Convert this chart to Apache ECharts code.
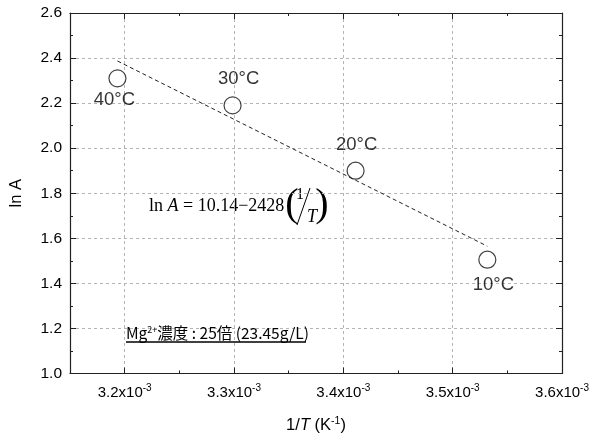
<!DOCTYPE html>
<html>
<head>
<meta charset="utf-8">
<script src="https://cdn.jsdelivr.net/npm/echarts@6/dist/echarts.min.js"></script>
<style>
  html, body { margin: 0; padding: 0; background: #fff; }
  #chart { width: 599px; height: 439px; }
</style>
</head>
<body>
<div id="chart"></div>
<script>
// Measured points: reciprocal temperature (1/K) and ln A
const tempLabels = ['40°C', '30°C', '20°C', '10°C'];
const invT = [0.0031934, 0.0032987, 0.0034112, 0.0035317];
const lnA = [2.31, 2.19, 1.90, 1.505];

// Regression line ln A = 10.14 - 2428 (1/T), drawn between its two end points
const fitX = [0.0031934, 0.0035317];
const fitY = [2.387, 1.565];

// Axis ranges
const xMin = 0.00315, xMax = 0.0036;
const yMin = 1.0, yMax = 2.6, yStep = 0.2;

const FONT = 'Liberation Sans, Arial, sans-serif';
const SERIF = 'Liberation Serif, Times New Roman, serif';
const INK = '#000';
const gridDash = { color: '#b4b4b4', type: [3, 3], width: 1 };

// Label placement for each temperature tag
const labelPlace = [
  { position: 'bottom', distance: 3, offset: [-3, 0] },
  { position: 'top', distance: 8, offset: [6, 0] },
  { position: 'top', distance: 7, offset: [1, 0] },
  { position: 'bottom', distance: 7, offset: [6, 0] }
];

const points = invT.map((x, i) => ({
  value: [x, lnA[i]],
  label: Object.assign({
    show: true,
    formatter: tempLabels[i],
    color: INK,
    fontSize: 18.5,
    fontFamily: FONT
  }, labelPlace[i])
}));

const fitLine = fitX.map((x, i) => [x, fitY[i]]);

function xTickLabel(v) {
  return '{m|' + (v * 1000).toFixed(1) + 'x10}{s|-3}';
}

const chart = echarts.init(document.getElementById('chart'));
chart.setOption({
  animation: false,
  backgroundColor: '#fff',
  grid: { left: 68, right: 37, top: 13, bottom: 64, containLabel: false },
  xAxis: [
    {
      // bottom axis: labels, major ticks, grid lines
      type: 'value', position: 'bottom', min: xMin, max: xMax,
      name: '{n|1/}{i|T}{n| (K}{s|-1}{n|)}',
      nameLocation: 'middle', nameGap: 42,
      nameTextStyle: {
        rich: {
          n: { fontSize: 16.5, fontFamily: FONT, color: INK },
          i: { fontSize: 16.5, fontFamily: FONT, fontStyle: 'italic', color: INK },
          s: { fontSize: 10.5, fontFamily: FONT, color: INK, verticalAlign: 'top', padding: [0, 0, 9, 0] }
        }
      },
      axisLine: { show: true, lineStyle: { color: '#222', width: 1.2 } },
      axisTick: { show: true, inside: true, length: 6, lineStyle: { color: '#222' } },
      axisLabel: {
        show: true, margin: 10, showMinLabel: false,
        formatter: xTickLabel,
        rich: {
          m: { fontSize: 15, fontFamily: FONT, color: INK },
          s: { fontSize: 10, fontFamily: FONT, color: INK, verticalAlign: 'top', padding: [0, 0, 8, 0] }
        }
      },
      splitLine: { show: true, lineStyle: gridDash }
    },
    {
      // top frame edge
      type: 'value', position: 'top', min: xMin, max: xMax,
      axisLine: { show: true, lineStyle: { color: '#222', width: 1.2 } },
      axisTick: { show: true, inside: true, length: 6, lineStyle: { color: '#222' } },
      axisLabel: { show: false },
      splitLine: { show: false }
    },
    {
      // bottom minor ticks every 0.05e-3
      type: 'value', position: 'bottom', min: xMin, max: xMax, interval: 0.00005,
      axisLine: { show: false },
      axisTick: { show: true, inside: true, length: 3, lineStyle: { color: '#222' } },
      axisLabel: { show: false },
      splitLine: { show: false }
    },
    {
      // top minor ticks
      type: 'value', position: 'top', min: xMin, max: xMax, interval: 0.00005,
      axisLine: { show: false },
      axisTick: { show: true, inside: true, length: 3, lineStyle: { color: '#222' } },
      axisLabel: { show: false },
      splitLine: { show: false }
    }
  ],
  yAxis: [
    {
      type: 'value', position: 'left', min: yMin, max: yMax, interval: yStep,
      name: '{n|ln }{i|A}',
      nameLocation: 'middle', nameGap: 45, nameRotate: 90,
      nameTextStyle: {
        rich: {
          n: { fontSize: 16.5, fontFamily: FONT, color: INK },
          i: { fontSize: 16.5, fontFamily: FONT, color: INK }
        }
      },
      axisLine: { show: true, lineStyle: { color: '#222', width: 1.2 } },
      axisTick: { show: true, inside: true, length: 6, lineStyle: { color: '#222' } },
      minorTick: { show: true, splitNumber: 2, length: 3, lineStyle: { color: '#222' } },
      axisLabel: {
        show: true, margin: 8, fontSize: 15.5, fontFamily: FONT, color: INK,
        formatter: v => v.toFixed(1)
      },
      splitLine: { show: true, lineStyle: gridDash }
    },
    {
      type: 'value', position: 'right', min: yMin, max: yMax, interval: yStep,
      axisLine: { show: true, lineStyle: { color: '#222', width: 1.2 } },
      axisTick: { show: true, inside: true, length: 6, lineStyle: { color: '#222' } },
      minorTick: { show: true, splitNumber: 2, length: 3, lineStyle: { color: '#222' } },
      axisLabel: { show: false },
      splitLine: { show: false }
    }
  ],
  series: [
    {
      type: 'line',
      data: fitLine,
      symbol: 'none',
      lineStyle: { color: '#222', width: 1, type: [4, 3] },
      z: 2
    },
    {
      type: 'scatter',
      data: points,
      symbol: 'circle',
      symbolSize: 17,
      itemStyle: { color: '#fff', borderColor: '#111', borderWidth: 1.2 },
      z: 3
    }
  ],
  graphic: [
    {
      // regression equation: ln A = 10.14 − 2428 (1/T)
      type: 'group', z: 10,
      children: [
        {
          type: 'text', x: 149, y: 206,
          style: {
            text: '{r|ln }{i|A}{r| = 10.14−2428}',
            verticalAlign: 'middle', align: 'left',
            rich: {
              r: { fontSize: 18, fontFamily: SERIF, fill: INK },
              i: { fontSize: 18, fontFamily: SERIF, fontStyle: 'italic', fill: INK }
            }
          }
        },
        {
          type: 'text', x: 292, y: 205,
          style: { text: '(', fontSize: 40, fontFamily: SERIF, fill: INK, align: 'center', verticalAlign: 'middle' }
        },
        {
          type: 'text', x: 300, y: 195,
          style: { text: '1', fontSize: 16, fontFamily: SERIF, fill: INK, align: 'center', verticalAlign: 'middle' }
        },
        {
          type: 'line',
          shape: { x1: 297, y1: 225, x2: 310, y2: 188 },
          style: { stroke: INK, lineWidth: 1 }
        },
        {
          type: 'text', x: 312, y: 217,
          style: { text: 'T', fontSize: 18, fontStyle: 'italic', fontFamily: SERIF, fill: INK, align: 'center', verticalAlign: 'middle' }
        },
        {
          type: 'text', x: 322, y: 205,
          style: { text: ')', fontSize: 40, fontFamily: SERIF, fill: INK, align: 'center', verticalAlign: 'middle' }
        }
      ]
    },
    {
      // concentration note
      type: 'text', left: 126, top: 325, z: 10,
      style: {
        text: '{m|Mg}{s|2+}{m|濃度 : 25倍 (23.45g/L)}',
        rich: {
          m: { fontSize: 15.5, fontFamily: 'Noto Sans CJK JP, sans-serif', fill: INK },
          s: { fontSize: 9, fontFamily: 'Noto Sans CJK JP, sans-serif', fill: INK, verticalAlign: 'top', padding: [0, 0, 8, 0] }
        }
      }
    },
    {
      type: 'line', z: 10,
      shape: { x1: 126, y1: 342, x2: 306, y2: 342 },
      style: { stroke: INK, lineWidth: 1.6 }
    }
  ]
});
</script>
</body>
</html>
